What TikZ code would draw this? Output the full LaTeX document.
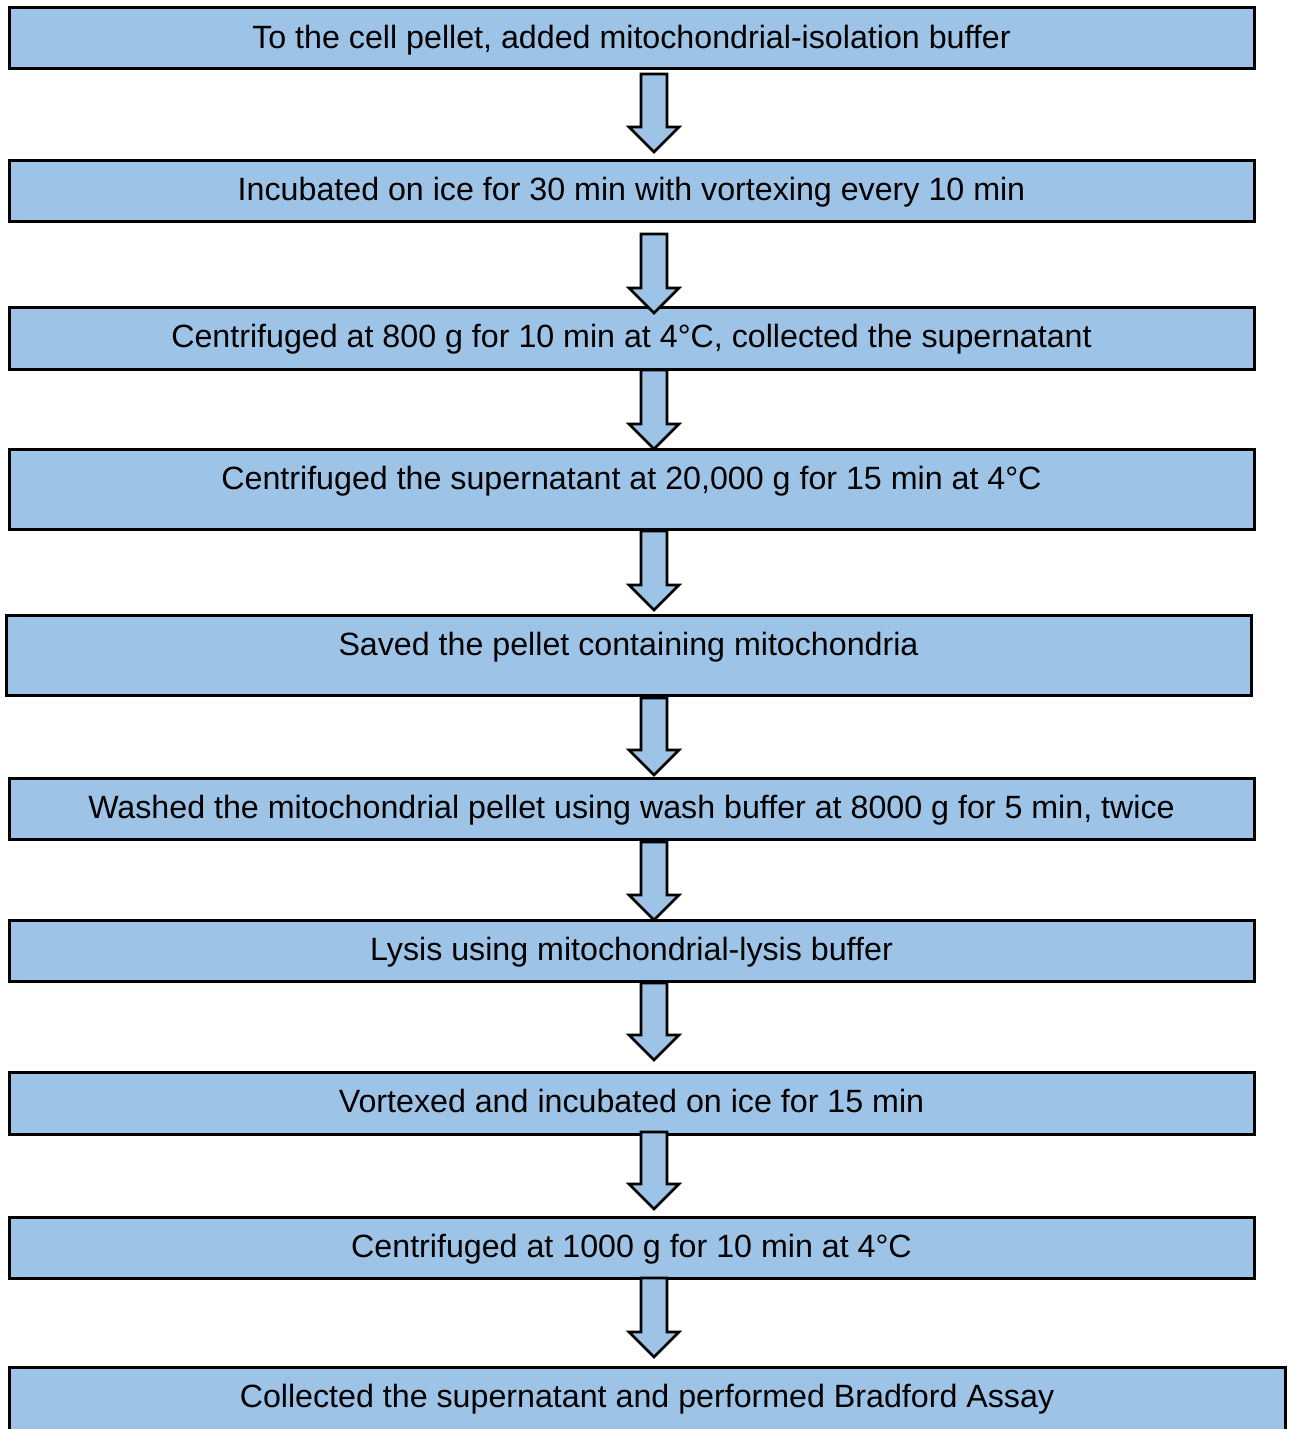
\documentclass[tikz,border=0pt]{standalone}
\usepackage{fontspec}
\setmainfont{Liberation Sans}
\usepackage{tikz}
\usetikzlibrary{positioning}
\tikzstyle{flowchart} = [x = 0.5pt, y = -0.5pt]
\definecolor{boxColor}{RGB}{157,195,230}
\tikzstyle{stepBox} = [draw=black, fill=boxColor, line width=1.5pt, inner sep=0pt, outer sep=0pt, anchor=north west]
\tikzstyle{stepText} = [font=\fontsize{16.1}{19}\selectfont, anchor=base, inner sep=0pt]
\tikzstyle{arrowStyle} = [draw=black, fill=boxColor, line width=1.3pt, line join=miter]
\newcommand{\arrowX}{654}
\newcommand{\stepNode}[6]{
  \node [stepBox, minimum width={(#4-#2)*0.5pt}, minimum height={(#5-#3)*0.5pt}] (#1) at (#2,#3) {};
  \node [stepText] (#1Text) at ([yshift=-20.4pt]#1.north) {#6};
}
\newcommand{\flowArrow}[2]{\filldraw [arrowStyle] (\arrowX - 13, #1) -- (\arrowX + 13, #1) -- (\arrowX + 13, #2 - 25) -- (\arrowX + 25, #2 - 25) -- (\arrowX, #2) -- (\arrowX - 25, #2 - 25) -- (\arrowX - 13, #2 - 25) -- cycle;}
\begin{document}
\begin{tikzpicture}[flowchart]
  \useasboundingbox (0,0) rectangle (1291,1429);
  \stepNode{isolation}{9}{8}{1254}{69}{To the cell pellet, added mitochondrial-isolation buffer}
  \stepNode{incubate}{9}{160}{1254}{221}{Incubated on ice for 30 min with vortexing every 10 min}
  \stepNode{spinLow}{9}{307}{1254}{369}{Centrifuged at 800 g for 10 min at 4°C, collected the supernatant}
  \stepNode{spinHigh}{9}{449}{1254}{529}{Centrifuged the supernatant at 20,000 g for 15 min at 4°C}
  \stepNode{pellet}{6}{615}{1251}{695}{Saved the pellet containing mitochondria}
  \stepNode{wash}{9}{778}{1254}{839}{Washed the mitochondrial pellet using wash buffer at 8000 g for 5 min, twice}
  \stepNode{lysis}{9}{920}{1254}{981}{Lysis using mitochondrial-lysis buffer}
  \stepNode{vortex}{9}{1072}{1254}{1134}{Vortexed and incubated on ice for 15 min}
  \stepNode{spinFinal}{9}{1217}{1254}{1278}{Centrifuged at 1000 g for 10 min at 4°C}
  \stepNode{bradford}{9}{1367}{1285}{1445}{Collected the supernatant and performed Bradford Assay}

  \flowArrow{74}{152}
  \flowArrow{234}{313}
  \flowArrow{370}{449}
  \flowArrow{531}{610}
  \flowArrow{698}{775}
  \flowArrow{842}{920}
  \flowArrow{983}{1060}
  \flowArrow{1132}{1209}
  \flowArrow{1278}{1357}
\end{tikzpicture}
\end{document}
